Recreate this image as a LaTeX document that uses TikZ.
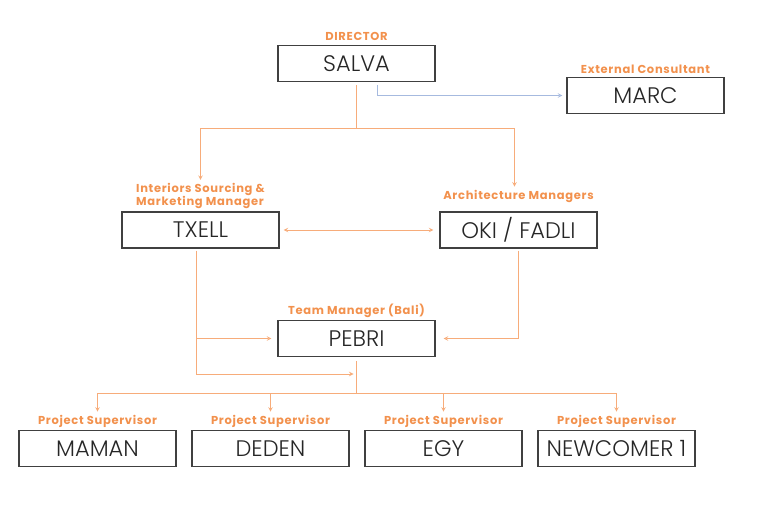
\documentclass[tikz,border=0pt]{standalone}
\usepackage{fontspec}
\setmainfont{Poppins}
\newfontfamily\namefont{Poppins Light}
\newfontfamily\rolefont{Poppins}[LetterSpace=6]
\usetikzlibrary{calc}
\definecolor{rolecolor}{rgb}{0.949020, 0.568627, 0.301961}
\definecolor{linecolor}{rgb}{0.968627, 0.674510, 0.478431}
\definecolor{conscolor}{rgb}{0.650980, 0.729412, 0.874510}
\definecolor{boxcolor}{rgb}{0.250000, 0.250000, 0.250000}
\newlength{\du}
\setlength{\du}{1\unitlength}
\tikzset{
  namebox/.style={draw=boxcolor, line width=1.3\du, minimum width=157\du,
    minimum height=36\du, inner sep=0pt, text=black!85,
    font=\namefont\fontsize{22.5}{24}\selectfont},
  rolelbl/.style={text=rolecolor, inner sep=0pt,
    font=\rolefont\bfseries\fontsize{11.5}{12}\selectfont},
  orgline/.style={draw=linecolor, line width=1\du},
  orgarrow/.style={orgline, -stealth},
  consline/.style={draw=conscolor, line width=1\du, -stealth},
}

\begin{document}
\begin{tikzpicture}
\pgftransformxscale{1.000000}
\pgftransformyscale{-1.000000}
\useasboundingbox (0\du,0\du) rectangle (768\du,513\du);
% boxes
\node[namebox] (salva) at (356.500000\du,63.500000\du){SALVA};
\node[namebox] (marc) at (645.500000\du,95.500000\du){MARC};
\node[namebox] (txell) at (200.500000\du,230.000000\du){TXELL};
\node[namebox] (oki) at (518.500000\du,230.000000\du){OKI / FADLI};
\node[namebox] (pebri) at (356.500000\du,338.500000\du){PEBRI};
\node[namebox] (maman) at (97.500000\du,448.500000\du){MAMAN};
\node[namebox] (deden) at (270.500000\du,448.500000\du){DEDEN};
\node[namebox] (egy) at (443.500000\du,448.500000\du){EGY};
\node[namebox] (newcomer) at (616.500000\du,448.500000\du){NEWCOMER 1};
% role labels
\node[rolelbl] (salvalbl) at (356.500000\du,36.000000\du){DIRECTOR};
\node[rolelbl] (marclbl) at (645.500000\du,69.000000\du){External Consultant};
\node[rolelbl, align=left] (txelllbl) at (200.500000\du,196.000000\du){Interiors Sourcing \&\\Marketing Manager};
\node[rolelbl] (okilbl) at (518.500000\du,196.000000\du){Architecture Managers};
\node[rolelbl] (pebrilbl) at (356.500000\du,311.000000\du){Team Manager (Bali)};
\node[rolelbl] (mamanlbl) at (97.500000\du,421.000000\du){Project Supervisor};
\node[rolelbl] (dedenlbl) at (270.500000\du,421.000000\du){Project Supervisor};
\node[rolelbl] (egylbl) at (443.500000\du,421.000000\du){Project Supervisor};
\node[rolelbl] (newcomerlbl) at (616.500000\du,421.000000\du){Project Supervisor};
% split points
\coordinate (topsplit) at (356.500000\du,129.000000\du);
\coordinate (txellfoot) at (196.000000\du,374.000000\du);
\coordinate (botsplit) at (356.500000\du,393.000000\du);
% connectors
\draw[consline, shorten <=3\du, shorten >=4\du] ([xshift=20.5\du]salva.south) |- (marc.west);
\draw[orgline, shorten <=3\du] (salva.south) -- (topsplit);
\draw[orgarrow, shorten >=3\du] (topsplit) -| (txelllbl.north);
\draw[orgarrow, shorten >=3\du] (topsplit) -| ([xshift=-4\du]okilbl.north);
\draw[orgline, stealth-stealth, shorten <=4\du, shorten >=6\du] (txell.east) -- (oki.west);
\draw[orgline, shorten <=2\du] (txell.south -| txellfoot) -- (txellfoot);
\draw[orgarrow, shorten >=6\du] (pebri.west -| txellfoot) -- (pebri.west);
\draw[orgarrow, shorten >=3\du] (txellfoot) -- (txellfoot -| pebri.south);
\draw[orgarrow, shorten <=2\du, shorten >=8\du] (oki.south) |- (pebri.east);
\draw[orgline, shorten <=4\du] (pebri.south) -- (botsplit);
\foreach \n in {maman,deden,egy,newcomer}{
  \draw[orgarrow, shorten >=3\du] (botsplit) -| (\n lbl.north);
}
\end{tikzpicture}
\end{document}
